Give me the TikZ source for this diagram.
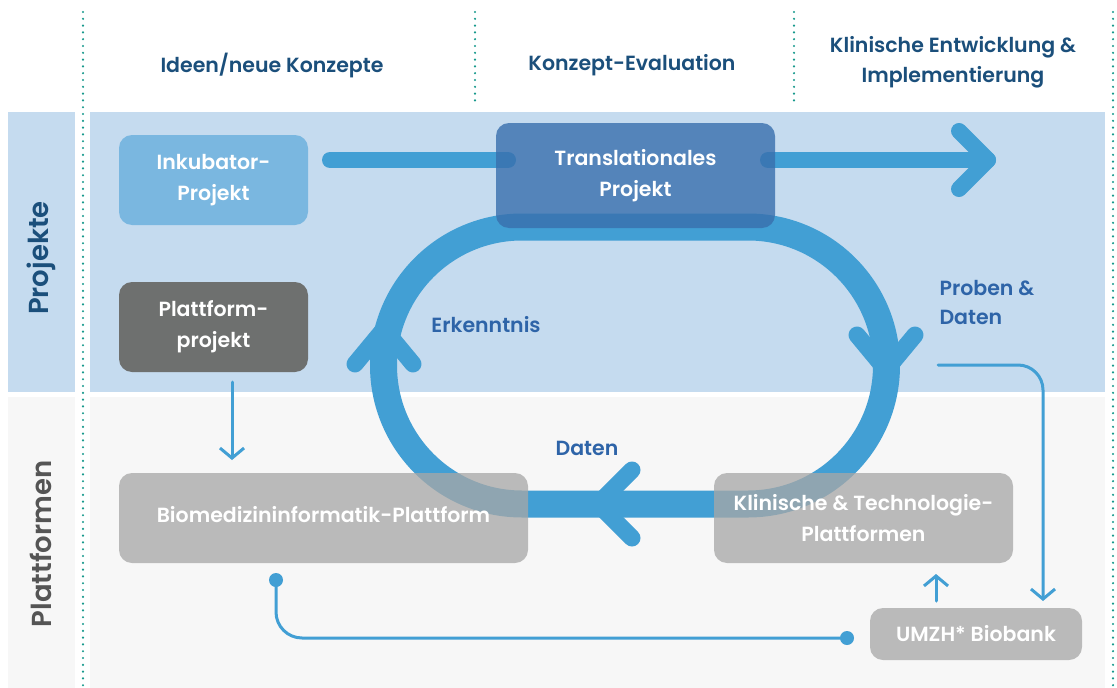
\documentclass[tikz,border=0pt]{standalone}
\usepackage{fontspec}
\setmainfont{Poppins SemiBold}
\usetikzlibrary{arrows.meta}
\definecolor{headblue}{HTML}{1B4F7B}
\definecolor{labblue}{HTML}{2E64A8}
\definecolor{loopblue}{HTML}{429FD4}
\definecolor{inkubfill}{HTML}{7AB7E0}
\definecolor{transfill}{HTML}{386FAD}
\definecolor{platdark}{HTML}{6E706F}
\definecolor{platgray}{HTML}{A8A8A7}
\definecolor{bandblue}{HTML}{C5DBEF}
\definecolor{bandgray}{HTML}{F7F7F7}
\definecolor{dotteal}{HTML}{17998C}
\definecolor{sidegray}{HTML}{555555}
\tikzset{
  dotline/.style={dotteal, line width=2.4pt, line cap=round, dash pattern=on 0pt off 6.8pt},
  headtext/.style={text=headblue, align=center, font=\fontsize{20.5}{30}\selectfont},
  sidetext/.style={rotate=90, font=\fontsize{27.5}{32}\selectfont},
  pbox/.style={rounded corners=13pt, text=white, align=center, inner sep=0pt,
    font=\fontsize{20.5}{31}\selectfont},
  grayplat/.style={pbox, fill=platgray, fill opacity=0.76, text opacity=1},
  flowlabel/.style={text=labblue, align=left, font=\fontsize{20.5}{29}\selectfont},
  bigloop/.style={loopblue, line width=27pt, line join=round},
  chevron/.style={loopblue, line width=17pt, line cap=round, line join=round},
  mainarrow/.style={loopblue, line width=16pt, line cap=round},
  thinarrow/.style={loopblue, line width=3pt, line cap=round,
    -{Straight Barb[length=10pt, width=24pt, line width=3pt]}},
  thinline/.style={loopblue, line width=3pt, line cap=round},
  endpoint/.style={circle, fill=loopblue, minimum size=14pt, inner sep=0pt},
}
\begin{document}
\begin{tikzpicture}[x=1pt, y=-1pt]
\useasboundingbox (0,0) rectangle (1117,688);

% background bands
\fill[bandblue] (8,112) rectangle (75,392);
\fill[bandblue] (90,112) rectangle (1105,392);
\fill[bandgray] (8,397) rectangle (75,688);
\fill[bandgray] (90,397) rectangle (1105,688);

% phase separators
\draw[dotline] (83,12) -- (83,688);
\draw[dotline] (475,12) -- (475,105);
\draw[dotline] (794,12) -- (794,105);
\draw[dotline] (1113,12) -- (1113,688);

% phase headings
\node[headtext] (h1) at (272,65) {Ideen/neue Konzepte};
\node[headtext] (h2) at (632,65) {Konzept-Evaluation};
\node[headtext] (h3) at (953,62) {Klinische Entwicklung \&\\Implementierung};

% row labels
\node[sidetext, text=headblue] (rowp) at (41,258) {Projekte};
\node[sidetext, text=sidegray] (rowf) at (41,544) {Plattformen};

% translational cycle
\draw[bigloop] (522,227) -- (748,227) arc(-90:90:138.5) -- (522,504) arc(90:270:138.5) -- cycle;
\draw[chevron] (857,335) -- (886,370) -- (915,335);
\draw[chevron] (355,364) -- (384,329) -- (413,364);
\draw[chevron] (632,470) -- (598,504) -- (632,538);

% main project line
\draw[mainarrow] (330,160) -- (508,160);
\draw[mainarrow] (768,160) -- (988,160);
\draw[chevron, line width=16pt] (959,131) -- (988,160) -- (959,189);

% boxes
\node[pbox, fill=inkubfill, minimum width=189pt, minimum height=90pt] (inkub) at (213.5,180) {Inkubator-\\Projekt};
\node[pbox, fill=transfill, fill opacity=0.8, text opacity=1, minimum width=279pt, minimum height=105pt] (trans) at (635.5,175.5) {Translationales\\Projekt};
\node[pbox, fill=platdark, minimum width=189pt, minimum height=90pt] (plat) at (213.5,327) {Plattform-\\projekt};
\node[grayplat, minimum width=409pt, minimum height=90pt] (bmi) at (323.5,518) {};
\node[text=white, font=\fontsize{20.5}{31}\selectfont] (bmit) at (323.5,515) {Biomedizininformatik-Plattform};
\node[grayplat, minimum width=299pt, minimum height=90pt] (ktp) at (863.5,518) {Klinische \& Technologie-\\Plattformen};
\node[grayplat, minimum width=212pt, minimum height=52pt] (bio) at (976,634) {UMZH* Biobank};

% flow labels
\node[flowlabel] (lerk) at (486,325) {Erkenntnis};
\node[flowlabel, anchor=west] (lprob) at (936,303) {Proben \&\\Daten};
\node[flowlabel] (ldat) at (587,448) {Daten};

% thin connectors
\coordinate (pa) at (232,382);
\coordinate (pb) at (232,460);
\draw[thinarrow] (pa) -- (pb);

\coordinate (sa) at (938,365);
\coordinate (sb) at (1043,601);
\draw[thinarrow, rounded corners=25pt] (sa) -| (sb);

\coordinate (ua) at (936,601);
\coordinate (ub) at (936,574);
\draw[thinarrow] (ua) -- (ub);

\node[endpoint] (d1) at (847,638) {};
\node[endpoint] (d2) at (276,580) {};
\draw[thinline, rounded corners=26pt] (d1.center) -| (d2.center);
\end{tikzpicture}
\end{document}
